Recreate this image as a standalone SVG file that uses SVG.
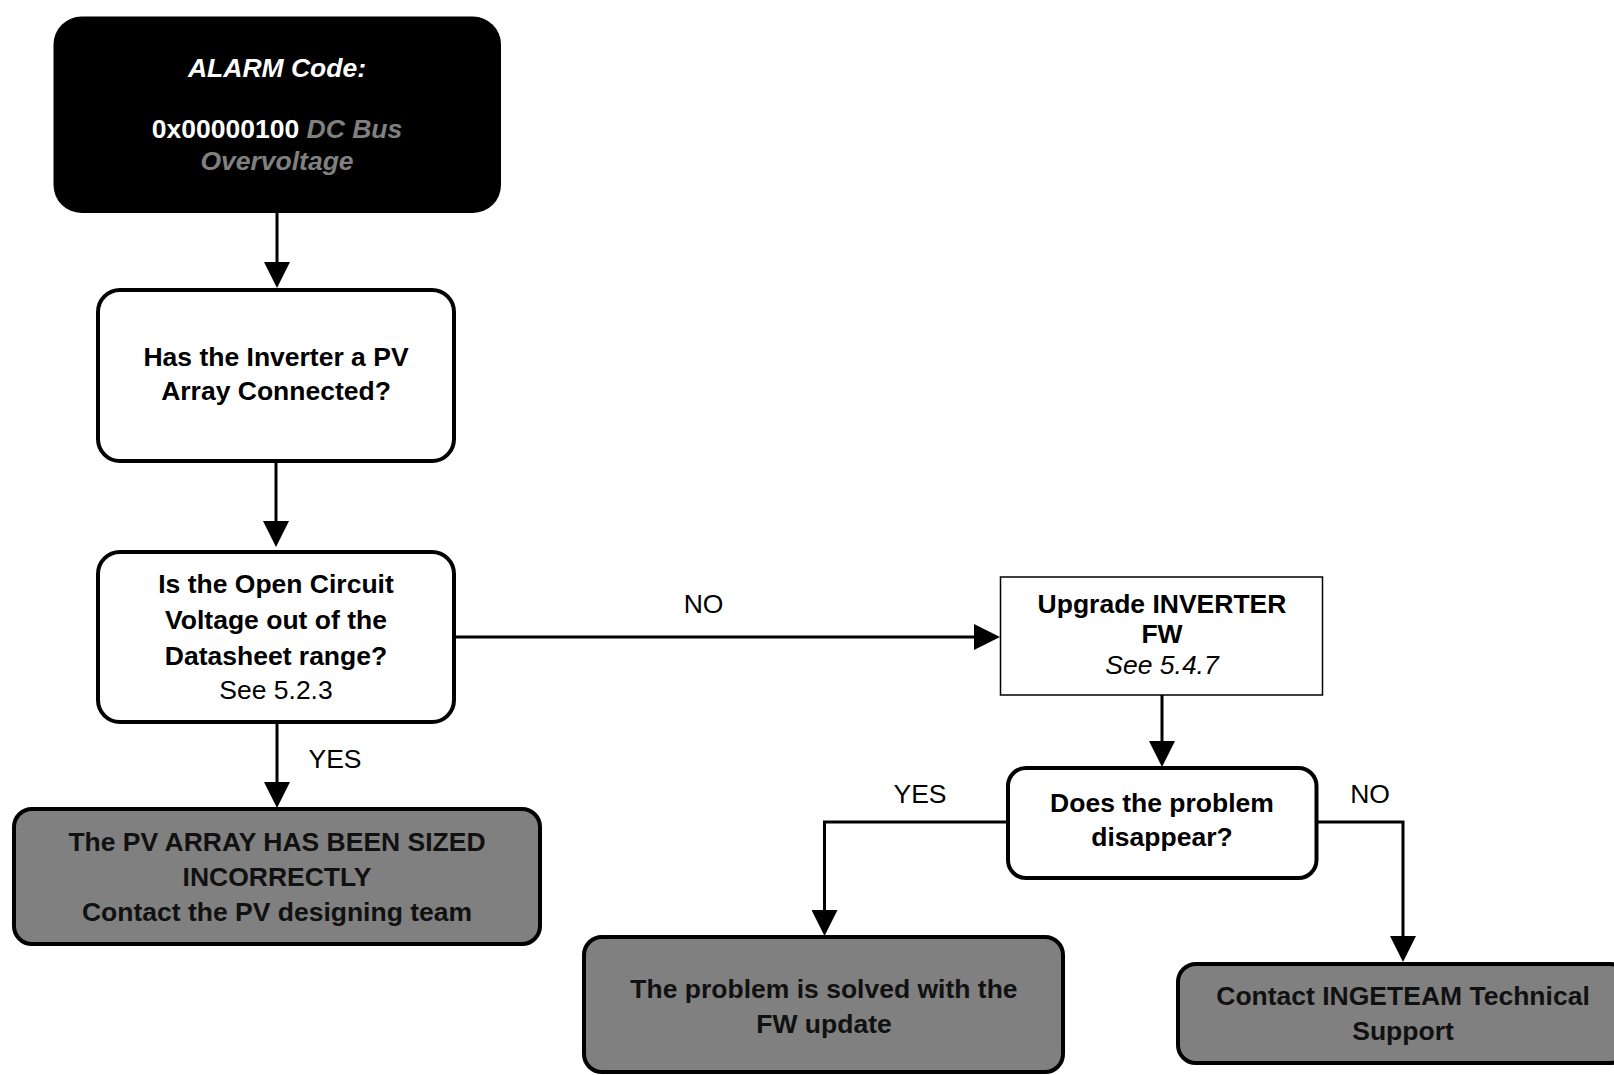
<svg xmlns="http://www.w3.org/2000/svg" width="1614" height="1075" viewBox="0 0 1614 1075">
<defs>
<marker id="arr" markerUnits="userSpaceOnUse" markerWidth="26" markerHeight="26" viewBox="0 0 26 26" refX="1" refY="13" orient="auto">
<path d="M0,0 L26,13 L0,26 z" fill="#000"/>
</marker>
<style>
.t{font-family:"Liberation Sans",Arial,sans-serif;font-size:26.5px;text-anchor:middle;font-weight:bold;fill:#000}
.r{font-weight:normal}
.i{font-style:italic}
.w{fill:#fff}
.g{fill:#808080}
.d{fill:#111}
.box{fill:#fff;stroke:#000;stroke-width:4}
.gbox{fill:#808080;stroke:#000;stroke-width:4}
.c{fill:none;stroke:#000;stroke-width:3;marker-end:url(#arr)}
.lbl{font-family:"Liberation Sans",Arial,sans-serif;font-size:26.5px;text-anchor:middle;fill:#000}
</style>
</defs>
<rect width="1614" height="1075" fill="#fff"/>
<g id="connectors">
<path class="c" d="M277,213 L277,263"/>
<path class="c" d="M276,461 L276,522"/>
<path class="c" d="M277,722 L277,783"/>
<path class="c" d="M454,637 L975,637"/>
<path class="c" d="M1162,695 L1162,742"/>
<path class="c" d="M1008,822 L824.5,822 L824.5,911"/>
<path class="c" d="M1316.5,822 L1403,822 L1403,937"/>
<text class="lbl" x="335" y="768">YES</text>
<text class="lbl" x="703.5" y="613">NO</text>
<text class="lbl" x="920" y="803">YES</text>
<text class="lbl" x="1370" y="803">NO</text>
</g>
<g id="alarm">
<rect x="53.5" y="16.5" width="447.5" height="196.5" rx="28" fill="#000"/>
<text class="t i w" x="277" y="77">ALARM Code:</text>
<text class="t w" x="277" y="138">0x00000100 <tspan class="i g">DC Bus</tspan></text>
<text class="t i g" x="277" y="170">Overvoltage</text>
</g>
<g id="pv-connected">
<rect class="box" x="98" y="290" width="356" height="171" rx="22"/>
<text class="t" x="276" y="366">Has the Inverter a PV</text>
<text class="t" x="276" y="400">Array Connected?</text>
</g>
<g id="voc-range">
<rect class="box" x="98" y="552" width="356" height="170" rx="22"/>
<text class="t" x="276" y="593">Is the Open Circuit</text>
<text class="t" x="276" y="629">Voltage out of the</text>
<text class="t" x="276" y="665">Datasheet range?</text>
<text class="t r" x="276" y="699">See 5.2.3</text>
</g>
<g id="sized-incorrectly">
<rect class="gbox" x="14" y="809" width="526" height="135" rx="18"/>
<text class="t d" x="277" y="851">The PV ARRAY HAS BEEN SIZED</text>
<text class="t d" x="277" y="886">INCORRECTLY</text>
<text class="t d" x="277" y="921">Contact the PV designing team</text>
</g>
<g id="upgrade-fw">
<rect x="1000.5" y="577" width="322" height="118" fill="#fff" stroke="#000" stroke-width="1.5"/>
<text class="t" x="1162" y="613">Upgrade INVERTER</text>
<text class="t" x="1162" y="643">FW</text>
<text class="t r i" x="1162" y="674">See 5.4.7</text>
</g>
<g id="problem-disappear">
<rect class="box" x="1008" y="768" width="308.5" height="110" rx="18"/>
<text class="t" x="1162" y="812">Does the problem</text>
<text class="t" x="1162" y="846">disappear?</text>
</g>
<g id="solved">
<rect class="gbox" x="584" y="937" width="479" height="135" rx="18"/>
<text class="t d" x="824" y="998">The problem is solved with the</text>
<text class="t d" x="824" y="1033">FW update</text>
</g>
<g id="contact-support">
<rect class="gbox" x="1178" y="964" width="450" height="99" rx="18"/>
<text class="t d" x="1403" y="1005">Contact INGETEAM Technical</text>
<text class="t d" x="1403" y="1040">Support</text>
</g>
</svg>
